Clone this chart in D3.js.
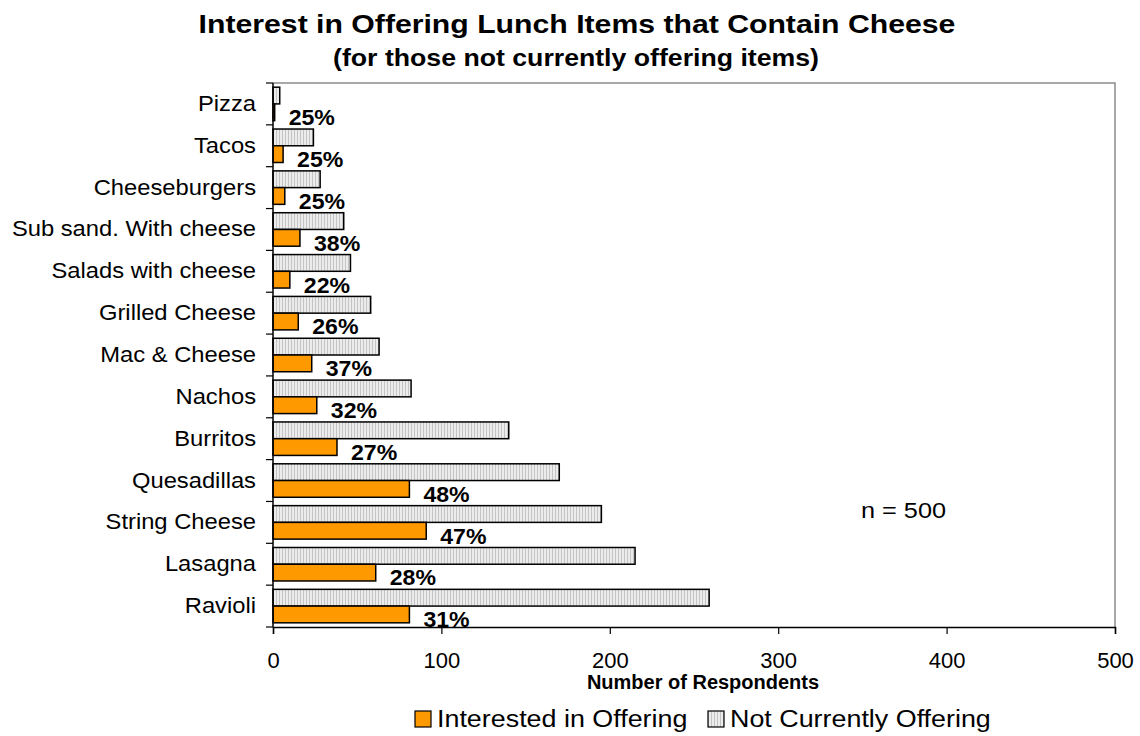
<!DOCTYPE html>
<html>
<head>
<meta charset="utf-8">
<script src="https://cdn.jsdelivr.net/npm/d3@7"></script>
<style>
  html, body { margin: 0; padding: 0; background: #fff; }
  svg { display: block; font-family: "Liberation Sans", Arial, sans-serif; }
</style>
</head>
<body>
<svg id="chart" width="1140" height="736"></svg>
<script>
// Items, from top to bottom
const categories = ["Pizza", "Tacos", "Cheeseburgers", "Sub sand. With cheese", "Salads with cheese",
  "Grilled Cheese", "Mac & Cheese", "Nachos", "Burritos", "Quesadillas", "String Cheese", "Lasagna", "Ravioli"];
// Respondents not currently offering each item
const notOffering = [4, 24, 28, 42, 46, 58, 63, 82, 140, 170, 195, 215, 259];
// Of those, respondents interested in offering it
const interested = [1, 6, 7, 16, 10, 15, 23, 26, 38, 81, 91, 61, 81];
// Share interested, as printed beside each bar
const shareLabels = ["25%", "25%", "25%", "38%", "22%", "26%", "37%", "32%", "27%", "48%", "47%", "28%", "31%"];
const xTicks = [0, 100, 200, 300, 400, 500];
const seriesNames = ["Not Currently Offering", "Interested in Offering"];
const legendOrder = ["Interested in Offering", "Not Currently Offering"];

const svg = d3.select("#chart");
const plotLeft = 273, plotRight = 1115, plotTop = 83, plotBottom = 627;

// Text drawn with a slight horizontal stretch, anchored at (x, y)
function label(parent, x, y, str, size, opts = {}) {
  return parent.append("text")
    .attr("transform", `translate(${x},${y}) scale(${opts.sx || 1},1)`)
    .attr("text-anchor", opts.anchor || "start")
    .attr("font-size", size)
    .attr("font-weight", opts.bold ? "bold" : "normal")
    .attr("fill", "#000")
    .text(str);
}

// Striped fill for the "not offering" bars
const defs = svg.append("defs");
const pat = defs.append("pattern").attr("id", "stripes").attr("patternUnits", "userSpaceOnUse")
  .attr("width", 3).attr("height", 10);
pat.append("rect").attr("width", 3).attr("height", 10).attr("fill", "#ececec");
pat.append("rect").attr("x", 0).attr("width", 1).attr("height", 10).attr("fill", "#c4c4c4");

const fills = { "Not Currently Offering": "url(#stripes)", "Interested in Offering": "#FF9900" };

const x = d3.scaleLinear().domain([0, 500]).range([plotLeft, plotRight]);
const y = d3.scaleBand().domain(categories).range([plotTop, plotBottom]).paddingInner(0.2).paddingOuter(0.1);
const ySub = d3.scaleBand().domain(seriesNames).range([0, y.bandwidth()]);

// Plot frame: grey top and right edges
svg.append("path")
  .attr("d", `M${plotLeft},${plotTop}H${plotRight}V${plotBottom}`)
  .attr("fill", "none").attr("stroke", "#8c8c8c").attr("stroke-width", 1.5);

const rows = categories.map((c, i) => ({
  cat: c, "Not Currently Offering": notOffering[i], "Interested in Offering": interested[i], label: shareLabels[i]
}));

const g = svg.append("g");
rows.forEach(r => {
  seriesNames.forEach(s => {
    g.append("rect")
      .attr("x", x(0))
      .attr("y", y(r.cat) + ySub(s))
      .attr("width", x(r[s]) - x(0))
      .attr("height", ySub.bandwidth())
      .attr("fill", fills[s])
      .attr("stroke", "#000").attr("stroke-width", 1.5);
  });
  label(g, x(r["Interested in Offering"]) + 14, y(r.cat) + y.bandwidth() + 4.5, r.label, 22,
    { bold: true, sx: 1.05 });
});

// X axis
const xAxis = d3.axisBottom(x).tickValues(xTicks).tickSize(7).tickPadding(0).tickFormat(d3.format("d"));
const xg = svg.append("g").attr("transform", `translate(0,${plotBottom})`).call(xAxis);
xg.select(".domain").attr("stroke", "#000").attr("stroke-width", 1.5);
xg.selectAll(".tick line").attr("stroke", "#000").attr("stroke-width", 1.2);
xg.selectAll(".tick text").attr("y", 41).attr("dy", null)
  .attr("font-size", 22).attr("font-family", "Liberation Sans, Arial, sans-serif").attr("fill", "#000");

// Y axis line with ticks at band boundaries
const step = y.step();
const bounds = categories.map(c => y(c) - step * 0.1).concat([plotBottom]);
svg.append("line").attr("x1", plotLeft).attr("x2", plotLeft).attr("y1", plotTop).attr("y2", plotBottom)
  .attr("stroke", "#000").attr("stroke-width", 1.5);
svg.append("g").selectAll("line").data(bounds).join("line")
  .attr("x1", plotLeft - 7).attr("x2", plotLeft).attr("y1", d => d).attr("y2", d => d)
  .attr("stroke", "#000").attr("stroke-width", 1.2);

// Category labels
const catG = svg.append("g");
categories.forEach(c => {
  label(catG, 256, y(c) + y.bandwidth() / 2 + 7, c, 22, { anchor: "end", sx: 1.08 });
});

// Titles
label(svg, 577, 33, "Interest in Offering Lunch Items that Contain Cheese", 26.5,
  { anchor: "middle", bold: true, sx: 1.14 });
label(svg, 576, 66, "(for those not currently offering items)", 23,
  { anchor: "middle", bold: true, sx: 1.16 });
label(svg, 703, 689, "Number of Respondents", 20, { anchor: "middle", bold: true });

// Sample size note
label(svg, 861, 518, "n = 500", 22, { sx: 1.15 });

// Legend
const legendX = [415, 708];
legendOrder.forEach((s, i) => {
  svg.append("rect").attr("x", legendX[i]).attr("y", 711).attr("width", 16).attr("height", 16)
    .attr("fill", fills[s]).attr("stroke", "#000").attr("stroke-width", 1.2);
  label(svg, legendX[i] + 22, 727, s, 24, { sx: 1.12 });
});
</script>
</body>
</html>
